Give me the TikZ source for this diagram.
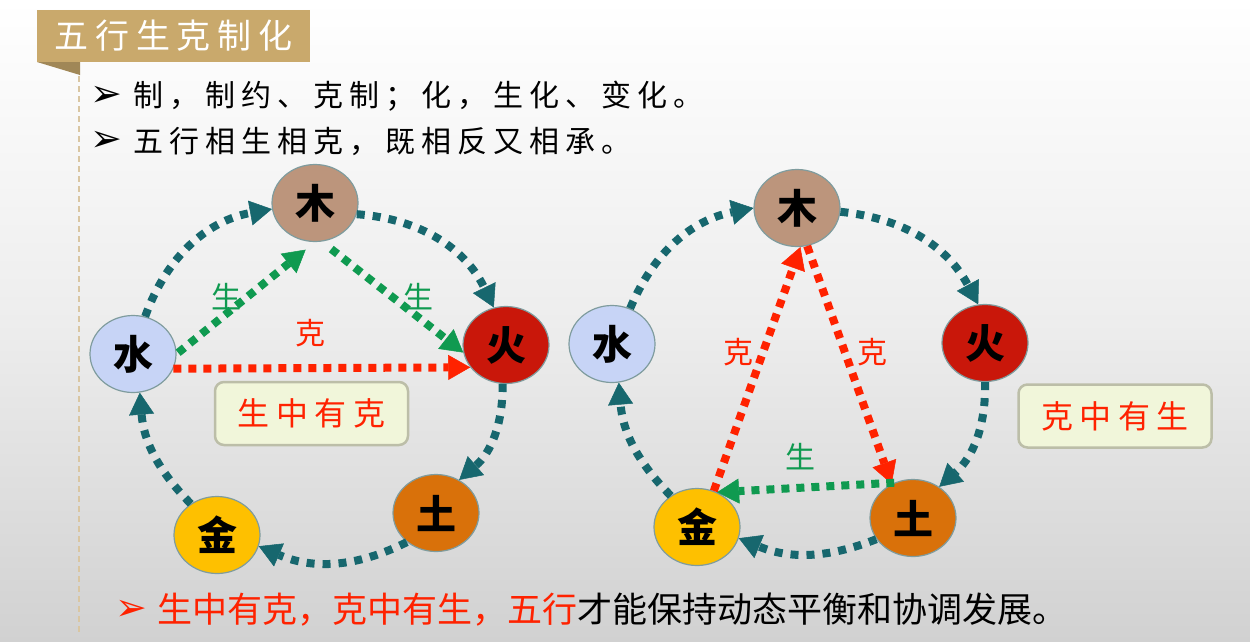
\documentclass[tikz,border=0pt]{standalone}
\usepackage{fontspec}
\setmainfont{Noto Sans CJK SC}
\newfontfamily\symfont{DejaVu Sans}
\newfontfamily\widecjk[LetterSpace=20]{Noto Sans CJK SC}
\usetikzlibrary{arrows.meta,shapes.geometric}
\definecolor{cyclecol}{HTML}{17676E}
\definecolor{shengcol}{HTML}{0F9A50}
\definecolor{kecol}{HTML}{FF2200}
\definecolor{titlegold}{HTML}{C9A96C}
\definecolor{titlefold}{HTML}{A08757}
\definecolor{guideline}{HTML}{D9C6A2}
\definecolor{notefill}{HTML}{F1F6DA}
\definecolor{noteline}{HTML}{BCBEA8}
\definecolor{ringline}{HTML}{7F9C9E}
\definecolor{wood}{HTML}{BC957C}
\definecolor{water}{HTML}{C7D4F6}
\definecolor{fire}{HTML}{C9170A}
\definecolor{earth}{HTML}{D9710A}
\definecolor{metal}{HTML}{FEC000}
\begin{document}
\begin{tikzpicture}[x=1pt,y=1pt,
  elem/.style={ellipse, draw=ringline, line width=1.2pt, minimum width=86pt,
    minimum height=77pt, inner sep=0pt, font=\fontsize{40}{40}\bfseries\selectfont},
  tipshape/.style={-{Triangle[length=22pt,width=25pt,line width=0.5pt]}},
  cyc/.style={draw=cyclecol, line width=8pt, dash pattern=on 8pt off 8pt, tipshape},
  genline/.style={draw=shengcol, line width=8pt, dash pattern=on 8pt off 7pt, tipshape},
  keline/.style={draw=kecol, line width=8pt, dash pattern=on 8pt off 7pt, tipshape},
  genlab/.style={text=shengcol, font=\fontsize{30}{30}\selectfont},
  kelab/.style={text=kecol, font=\fontsize{30}{30}\selectfont},
  note/.style={draw=noteline, line width=2.5pt, fill=notefill, rounded corners=9pt,
    minimum width=193pt, minimum height=63pt, text=kecol,
    font=\widecjk\fontsize{32}{32}\selectfont},
  bulletmark/.style={font=\symfont\fontsize{38}{38}\selectfont, inner sep=0pt},
  bodytext/.style={anchor=west, inner sep=0pt, font=\widecjk\fontsize{30}{30}\selectfont},
]
% page background
\useasboundingbox (0,0) rectangle (1250,-641);
\shade[top color=white, bottom color=black!18, middle color=black!7] (0,0) rectangle (1250,-641);

% title tab with its fold and the dashed guide
\fill[titlefold] (37,-62) -- (80,-62) -- (80,-75) -- cycle;
\draw[guideline, line width=1.3pt, dash pattern=on 6pt off 4pt] (79,-76) -- (79,-635);
\node[fill=titlegold, minimum width=273pt, minimum height=52pt, inner sep=0pt,
      text=white, font=\widecjk\fontsize{34}{34}\selectfont] (title) at (173.5,-36) {五行生克制化};

% bullet lines
\node[bulletmark] (b1) at (106,-96) {➢};
\node[bodytext] (t1) at (133,-96) {制，制约、克制；化，生化、变化。};
\node[bulletmark] (b2) at (106,-141) {➢};
\node[bodytext] (t2) at (133,-141) {五行相生相克，既相反又相承。};

% ---- left cycle: generation containing restraint ----
\node[elem, fill=wood]  (mu)   at (315,-203) {木};
\node[elem, fill=water] (shui) at (133,-354) {水};
\node[elem, fill=fire]  (huo)  at (506,-345) {火};
\node[elem, fill=earth] (tu)   at (436,-513) {土};
\node[elem, fill=metal] (jin)  at (217,-535) {金};

\draw[cyc] (shui.72) to[bend left=30] (mu.188);
\draw[cyc] (mu.-15) to[bend left=30] (huo.108);
\draw[cyc] (huo.-95) to[bend left=25] (tu.55);
\draw[cyc] (tu.-135) to[bend left=25] (jin.-15);
\draw[cyc] (jin.130) to[bend left=20] (shui.-80);

\draw[genline, shorten <=2pt, shorten >=12pt] (shui.east) -- (mu.south);
\draw[genline, shorten <=12pt] (mu.-80) -- (huo.-170);
\draw[keline] (shui.-20) -- (huo.-148);

\node[genlab] (g1) at (226,-297) {生};
\node[genlab] (g2) at (418,-297) {生};
\node[kelab]  (k1) at (310,-333) {克};
\node[note] (n1) at (311.5,-413.5) {生中有克};

% ---- right cycle: restraint containing generation ----
\node[elem, fill=wood]  (mu2)   at (797,-208) {木};
\node[elem, fill=water] (shui2) at (612,-344) {水};
\node[elem, fill=fire]  (huo2)  at (985,-343) {火};
\node[elem, fill=earth] (tu2)   at (913,-518) {土};
\node[elem, fill=metal] (jin2)  at (697,-527) {金};

\draw[cyc] (shui2.63) to[bend left=28] (mu2.180);
\draw[cyc] (mu2.-5) to[bend left=28] (huo2.100);
\draw[cyc] (huo2.-90) to[bend left=25] (tu2.50);
\draw[cyc] (tu2.-150) to[bend left=22] (jin2.-15);
\draw[cyc] (jin2.130) to[bend left=20] (shui2.-80);

\draw[keline] (jin2.65) -- (mu2.-85);
\draw[keline] (mu2.-75) -- (tu2.122);
\draw[genline] (tu2.118) -- (jin2.60);

\node[kelab]  (k2) at (738,-352) {克};
\node[kelab]  (k3) at (872,-352) {克};
\node[genlab] (g3) at (800,-457) {生};
\node[note] (n2) at (1115,-416) {克中有生};

% closing statement
\node[bulletmark, text=kecol] (b3) at (131,-610) {➢};
\node[anchor=west, inner sep=0pt, font=\fontsize{35}{35}\selectfont] (t3) at (157,-610)
  {\textcolor{kecol}{生中有克，克中有生，五行}才能保持动态平衡和协调发展。};
\end{tikzpicture}
\end{document}
